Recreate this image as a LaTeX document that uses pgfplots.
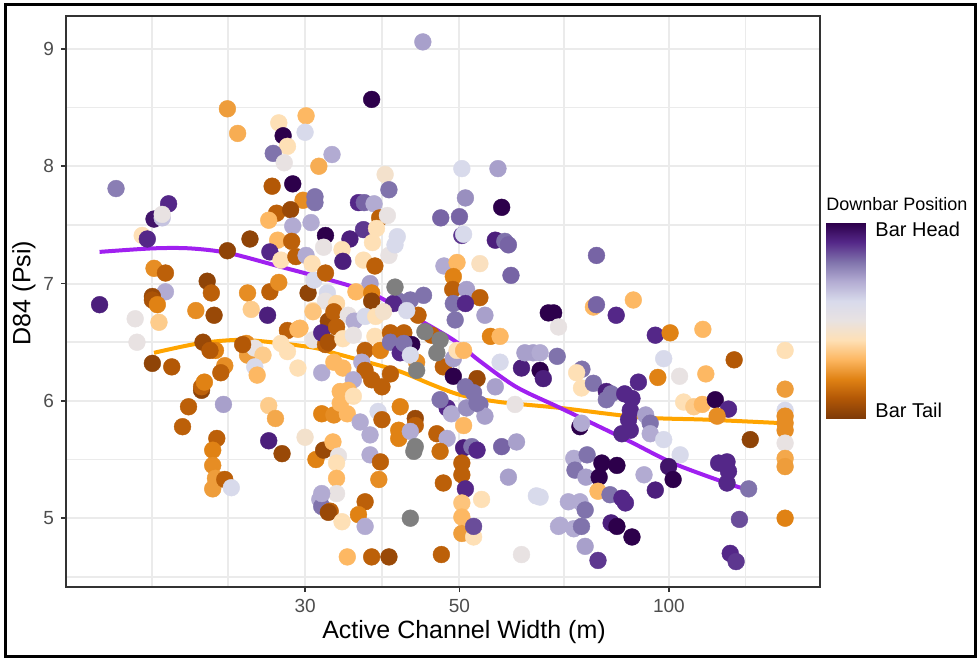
\documentclass[border=0pt]{standalone}
\usepackage{fontspec}
\setmainfont{Liberation Sans}
\usepackage{pgfplots}
\pgfplotsset{compat=1.18}
\usepackage{pgfplotstable}
\definecolor{gray30}{RGB}{77,77,77}
\definecolor{gray20}{RGB}{51,51,51}
\definecolor{gray92}{RGB}{235,235,235}
\definecolor{napoint}{RGB}{127,127,127}
\definecolor{smoothpurple}{RGB}{160,32,240}
\definecolor{smoothorange}{RGB}{255,165,0}
\pgfplotsset{colormap={puor}{rgb255=(127,59,8) rgb255=(179,88,6) rgb255=(224,130,20) rgb255=(253,184,99) rgb255=(254,224,182) rgb255=(232,226,226) rgb255=(216,218,235) rgb255=(178,171,210) rgb255=(128,115,172) rgb255=(84,39,136) rgb255=(45,0,75)}}

\pgfplotstableread{
x y c
23.2 8.49 0.25
24.0 8.28 0.28
27.5 8.37 0.40
30.1 8.43 0.30
30.0 8.29 0.60
27.9 8.26 1.00
28.3 8.17 0.40
27.0 8.11 0.80
28.0 8.03 0.50
31.4 8.00 0.28
16.05 7.81 0.78
19.1 7.68 0.90
18.2 7.55 0.95
18.7 7.56 0.65
18.7 7.59 0.50
17.5 7.41 0.40
17.8 7.38 0.90
26.9 7.83 0.10
28.8 7.85 1.00
29.8 7.71 0.22
31.0 7.69 0.80
27.3 7.60 0.12
28.6 7.63 0.05
26.6 7.54 0.30
28.8 7.49 0.70
30.6 7.52 0.70
27.4 7.37 0.30
28.7 7.36 0.12
25.0 7.38 0.03
23.2 7.28 0.03
26.7 7.27 0.90
27.7 7.20 0.40
29.1 7.23 0.12
30.1 7.24 0.70
18.2 7.13 0.22
18.9 7.09 0.12
21.7 7.02 0.03
22.0 6.92 0.12
18.9 6.93 0.70
18.1 6.89 0.05
24.8 6.92 0.22
26.7 6.93 0.12
27.5 7.01 0.22
30.3 6.92 0.03
30.9 7.03 0.60
32.1 7.41 1.00
31.9 7.31 0.50
15.2 6.82 0.92
18.1 6.86 0.08
18.4 6.82 0.20
17.1 6.70 0.50
18.5 6.67 0.35
17.2 6.50 0.50
20.9 6.77 0.22
22.2 6.73 0.05
25.1 6.78 0.35
26.5 6.73 0.92
30.8 6.77 0.40
18.1 6.32 0.03
19.3 6.29 0.10
21.4 6.50 0.05
22.3 6.43 0.20
21.9 6.43 0.10
23.0 6.30 0.22
22.7 6.24 0.12
21.3 6.09 0.03
21.3 6.12 0.12
21.5 6.16 0.20
24.7 6.49 0.22
24.8 6.39 0.25
25.4 6.45 0.50
26.1 6.39 0.35
25.4 6.29 0.60
25.6 6.22 0.30
24.4 6.48 0.10
28.3 6.60 0.12
29.3 6.61 0.30
27.7 6.49 0.40
28.3 6.42 0.40
29.3 6.28 0.40
30.8 6.52 0.50
22.9 5.97 0.72
20.4 5.95 0.12
20.0 5.78 0.12
26.6 5.96 0.35
27.2 5.85 0.27
22.4 5.68 0.12
22.1 5.58 0.20
22.1 5.45 0.22
22.3 5.34 0.25
22.1 5.25 0.25
23.0 5.33 0.12
23.5 5.26 0.60
26.6 5.66 0.92
27.8 5.55 0.05
30.0 5.69 0.45
31.1 5.50 0.20
31.7 5.89 0.20
31.7 6.24 0.70
31.5 5.16 0.70
31.7 5.10 0.80
32.6 5.06 0.12
32.1 6.48 0.12
44.3 9.06 0.72
37.4 8.57 1.00
39.1 7.93 0.45
39.6 7.80 0.80
50.4 7.98 0.60
56.8 7.98 0.72
51.0 7.73 0.75
57.5 7.65 1.00
47.0 7.56 0.82
50.0 7.57 0.82
50.4 7.41 0.88
50.7 7.42 0.60
56.3 7.37 0.92
58.1 7.36 0.80
58.8 7.33 0.82
53.5 7.17 0.42
47.5 7.15 0.70
49.6 7.18 0.30
49.0 7.06 0.20
48.9 6.95 0.12
51.2 6.95 0.72
53.5 6.88 0.12
59.3 7.07 0.82
35.8 7.69 0.90
36.5 7.69 0.82
37.7 7.68 0.70
38.4 7.56 0.12
39.4 7.58 0.50
36.4 7.46 0.88
38.0 7.47 0.40
40.7 7.40 0.60
34.8 7.38 0.92
33.9 7.29 0.40
34.0 7.19 0.92
36.4 7.20 0.40
37.5 7.35 0.40
39.6 7.24 0.50
40.4 7.33 0.60
37.8 7.15 0.12
37.2 7.00 0.72
35.5 6.93 0.30
37.4 6.92 0.20
44.4 6.90 0.80
31.0 7.74 0.80
30.7 7.17 0.40
32.1 7.09 0.12
32.3 6.92 0.60
32.8 8.10 0.70
40.9 6.85 0.80
42.5 6.86 0.80
37.4 6.85 0.03
32.1 6.85 0.50
33.3 6.83 0.38
30.8 6.76 0.33
32.4 6.68 0.05
33.0 6.76 0.12
34.6 6.73 0.50
35.3 6.68 0.70
36.6 6.72 0.60
37.9 6.72 0.40
40.2 6.83 0.90
43.6 6.73 0.12
42.0 6.77 0.60
38.9 6.76 0.45
49.0 6.83 0.80
51.0 6.83 0.90
54.4 6.73 0.72
49.3 6.69 0.80
29.5 6.62 0.30
31.7 6.58 0.90
32.4 6.50 0.08
33.3 6.63 0.12
34.0 6.53 0.40
35.2 6.56 0.50
36.6 6.43 0.12
37.8 6.55 0.40
38.5 6.43 0.20
39.8 6.58 0.12
39.8 6.50 0.80
41.6 6.58 0.12
41.1 6.41 0.90
42.7 6.48 1.00
41.6 6.49 0.80
45.6 6.56 0.12
43.4 6.33 0.22
42.5 6.39 0.60
47.4 6.29 0.12
49.0 6.36 0.72
49.6 6.43 0.40
50.7 6.43 0.30
49.0 6.21 1.00
53.0 6.19 0.05
51.0 6.12 0.80
52.4 6.07 0.80
53.5 5.97 0.80
54.4 5.87 0.72
55.4 6.55 0.20
57.2 6.55 0.30
57.2 6.33 0.60
56.3 6.12 0.72
61.4 6.28 0.92
62.1 6.41 0.72
63.8 6.41 0.72
65.3 6.26 1.00
66.0 6.19 0.92
67.1 6.75 1.00
68.3 6.75 1.00
69.4 6.63 0.50
69.1 6.38 0.80
60.1 5.97 0.50
48.0 5.94 0.90
48.7 5.89 0.70
50.7 5.79 0.30
51.2 5.94 0.75
53.0 5.98 0.80
46.9 6.01 0.80
34.0 6.28 0.30
33.0 6.33 0.30
36.2 6.33 0.70
36.6 6.26 0.12
37.4 6.18 0.12
38.7 6.12 0.12
39.8 6.23 0.12
35.2 6.18 0.70
33.7 6.08 0.30
34.6 6.09 0.30
33.0 5.88 0.22
34.5 5.89 0.30
33.7 5.98 0.30
35.2 6.04 0.40
36.0 5.82 0.70
37.2 5.71 0.70
38.2 5.91 0.60
38.7 5.84 0.12
41.1 5.95 0.20
43.2 5.85 0.05
43.2 5.79 0.12
40.9 5.75 0.20
40.9 5.68 0.20
42.5 5.74 0.70
46.4 5.72 0.12
48.0 5.68 0.70
46.9 5.57 0.15
50.7 5.60 0.92
52.1 5.61 0.80
53.0 5.58 0.90
57.5 5.61 0.82
60.4 5.65 0.72
31.9 5.58 0.05
32.9 5.65 0.30
33.5 5.53 0.50
33.3 5.47 0.40
37.2 5.54 0.70
38.5 5.48 0.12
33.3 5.34 0.30
38.3 5.33 0.22
50.4 5.47 0.12
50.4 5.37 0.12
51.0 5.25 0.90
47.4 5.30 0.12
53.8 5.16 0.40
58.8 5.35 0.72
64.5 5.19 0.60
33.3 5.21 0.50
31.7 5.21 0.70
32.4 5.05 0.05
33.9 4.97 0.40
36.6 5.14 0.12
35.8 5.03 0.20
36.6 4.93 0.70
50.4 5.13 0.33
50.4 5.01 0.30
50.4 4.87 0.25
52.4 4.84 0.40
52.4 4.93 0.85
34.5 4.67 0.30
37.4 4.67 0.12
39.6 4.67 0.05
47.1 4.69 0.12
61.4 4.69 0.50
69.4 4.93 0.70
73.0 5.51 0.70
78.7 7.24 0.82
77.9 6.80 0.30
78.7 6.82 0.82
84.0 6.73 0.90
88.9 6.86 0.30
95.6 6.56 0.90
100.4 6.58 0.20
111.9 6.61 0.30
146.9 6.43 0.40
124.1 6.35 0.10
65.3 6.41 0.70
75.0 6.27 0.80
73.7 6.24 0.40
74.9 6.11 0.40
77.9 6.15 0.80
81.3 6.08 0.92
82.6 6.06 0.80
86.4 6.06 0.90
88.5 6.02 0.90
90.4 6.16 0.90
81.3 6.01 0.80
98.3 6.36 0.60
96.4 6.20 0.20
103.6 6.21 0.50
113.0 6.23 0.30
105.0 5.99 0.40
108.6 5.95 0.35
111.7 5.97 0.30
116.6 6.01 1.00
121.8 5.93 0.90
117.3 5.87 0.22
146.9 6.10 0.25
146.9 5.92 0.60
146.9 5.87 0.22
146.9 5.81 0.22
146.9 5.75 0.22
130.9 5.67 0.03
146.9 5.64 0.50
146.9 5.51 0.27
146.9 5.44 0.25
146.9 5.00 0.20
88.0 5.92 0.90
87.5 5.84 0.90
74.5 5.78 1.00
74.9 5.81 0.70
85.6 5.72 0.90
88.0 5.75 0.90
92.6 5.88 0.72
94.0 5.81 0.80
94.0 5.72 0.70
98.3 5.67 0.60
103.8 5.54 0.60
99.9 5.44 0.95
101.4 5.33 1.00
117.9 5.47 0.90
121.2 5.48 0.90
121.8 5.40 0.90
121.2 5.30 0.90
130.2 5.25 0.80
76.3 5.54 0.80
73.3 5.41 0.80
76.0 5.35 0.72
80.1 5.47 1.00
84.2 5.45 1.00
79.4 5.35 1.00
92.1 5.37 0.70
95.6 5.24 0.92
79.1 5.23 0.30
82.3 5.20 0.80
85.6 5.17 0.90
86.6 5.13 0.90
65.3 5.18 0.60
71.7 5.14 0.70
74.5 5.14 0.70
75.8 5.07 0.80
69.8 4.94 0.70
73.0 4.91 0.70
74.9 4.93 0.80
82.6 4.96 0.92
84.2 4.93 1.00
88.5 4.84 1.00
75.8 4.76 0.72
79.1 4.64 0.88
126.3 4.99 0.85
122.5 4.70 0.90
124.9 4.63 0.88
}\pts

\pgfplotstableread{
x y
40.4 6.97
44.6 6.59
46.9 6.52
46.4 6.41
43.4 6.26
43.2 5.61
43.0 5.57
42.5 5.00
}\napts

\pgfplotstableread{
x y
15.2 7.27
18.1 7.30
20.5 7.30
23.3 7.26
27.8 7.14
32.6 7.03
37.3 6.92
42.3 6.74
49.0 6.52
53.2 6.35
60.3 6.12
69.8 5.94
86.8 5.67
101.3 5.47
119.6 5.31
129.9 5.24
}\purpleline

\pgfplotstableread{
x y
18.2 6.41
21.1 6.49
24.2 6.52
27.8 6.49
31.1 6.45
32.9 6.41
36.9 6.33
41.1 6.25
45.6 6.14
50.2 6.05
57.2 5.99
69.8 5.94
90.9 5.86
113.4 5.84
145.8 5.81
}\orangeline

% colour-bar strip: legend key of the Downbar Position scale (0 = Bar Tail, 1 = Bar Head)
\pgfplotstableread{
x y c
0 0.0 0.0
1 0.0 0.0
0 0.1 0.1
1 0.1 0.1
0 0.2 0.2
1 0.2 0.2
0 0.3 0.3
1 0.3 0.3
0 0.4 0.4
1 0.4 0.4
0 0.5 0.5
1 0.5 0.5
0 0.6 0.6
1 0.6 0.6
0 0.7 0.7
1 0.7 0.7
0 0.8 0.8
1 0.8 0.8
0 0.9 0.9
1 0.9 0.9
0 1.0 1.0
1 1.0 1.0
}\barkey

\begin{document}
\begin{tikzpicture}
\useasboundingbox (0,0) rectangle (489.5pt,332.5pt);
\fill[white] (0,0) rectangle (489.5pt,332.5pt);
\begin{axis}[
  at={(33pt,39pt)}, anchor=south west,
  scale only axis, width=377pt, height=285.5pt,
  xmode=log, xmin=13.6, xmax=164.9, ymin=4.4135, ymax=9.281,
  xtick={30,50,100}, xticklabels={30,50,100},
  minor xtick={18.08,23.25,38.73,70.71,128.8},
  ytick={5,6,7,8,9}, yticklabels={5,6,7,8,9},
  minor ytick={4.5,5.5,6.5,7.5,8.5},
  grid=both,
  major grid style={gray92, line width=1pt},
  minor grid style={gray92, line width=0.8pt},
  tick align=outside, tick pos=left,
  major tick length=2.5pt, minor tick length=0pt,
  tick style={gray20, line width=0.8pt},
  axis line style={gray20, line width=0.8pt},
  ticklabel style={font=\fontsize{9.5}{11}\selectfont, text=gray30},
  colormap name=puor, point meta min=0, point meta max=1,
]
\addplot[scatter, only marks, mark=*, mark size=4.2pt,
  scatter src=explicit,
  scatter/use mapped color={draw=mapped color, fill=mapped color},
  mark options={line width=0.2pt}] table[x=x, y=y, meta=c] {\pts};
\addplot[only marks, mark=*, mark size=4.2pt, color=napoint,
  mark options={fill=napoint, line width=0.2pt}] table[x=x, y=y] {\napts};
\addplot[smoothorange, line width=2pt, smooth, no marks] table[x=x, y=y] {\orangeline};
\addplot[smoothpurple, line width=2pt, smooth, no marks] table[x=x, y=y] {\purpleline};
\end{axis}
\begin{axis}[
  at={(413pt,123.5pt)}, anchor=south west,
  scale only axis, width=19.5pt, height=97.65pt,
  hide axis, xmin=0, xmax=1, ymin=0, ymax=1,
  colormap name=puor, point meta min=0, point meta max=1,
]
\addplot[surf, shader=interp, mesh/cols=2, point meta=explicit] table[x=x, y=y, meta=c] {\barkey};
\end{axis}
\node[font=\fontsize{12.5}{15}\selectfont, anchor=center] at (232pt,16.5pt) {Active Channel Width (m)};
\node[font=\fontsize{12.5}{15}\selectfont, rotate=90, anchor=center] at (12pt,186pt) {D84 (Psi)};
\node[font=\fontsize{9}{11}\selectfont, anchor=west, inner sep=0pt] at (413pt,230.5pt) {Downbar Position};
\node[font=\fontsize{10}{12}\selectfont, anchor=west, inner sep=0pt] at (437.5pt,218pt) {Bar Head};
\node[font=\fontsize{10}{12}\selectfont, anchor=west, inner sep=0pt] at (437.5pt,127.5pt) {Bar Tail};
\draw[black, line width=1.5pt] (2.75pt,4.25pt) rectangle (487.5pt,330.25pt);
\end{tikzpicture}
\end{document}
